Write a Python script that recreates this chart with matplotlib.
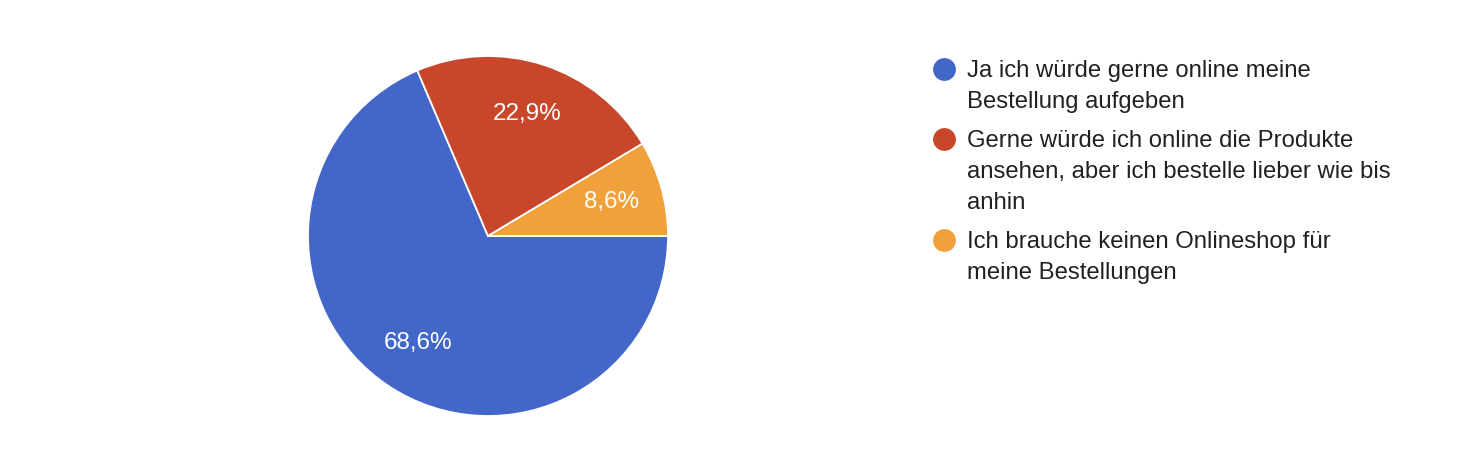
import matplotlib.pyplot as plt

plt.rcParams['font.family'] = ['Liberation Sans', 'DejaVu Sans']

# Antworten (n = 35)
categories = ['Ja ich würde gerne online meine\nBestellung aufgeben',
              'Gerne würde ich online die Produkte\nansehen, aber ich bestelle lieber wie bis\nanhin',
              'Ich brauche keinen Onlineshop für\nmeine Bestellungen']
counts = [24, 8, 3]
colors = ['#4267C9', '#C8472B', '#F0A13B']

W, H = 1462, 458
fig = plt.figure(figsize=(W / 100, H / 100), dpi=100)

cx, cy, r = 488, 236, 180
ax = fig.add_axes([(cx - r) / W, (H - cy - r) / H, 2 * r / W, 2 * r / H])
wedges, texts, autotexts = ax.pie(
    counts, colors=colors, startangle=0, counterclock=False,
    autopct=lambda p: f'{p:.1f}'.replace('.', ',') + '%',
    pctdistance=0.71,
    wedgeprops=dict(edgecolor='white', linewidth=1.3),
    textprops=dict(color='white', fontsize=17.5))
ax.set_xlim(-1, 1)
ax.set_ylim(-1, 1)

# Legende in Pixelkoordinaten
lg = fig.add_axes([0, 0, 1, 1], zorder=-1)
lg.set_xlim(0, W)
lg.set_ylim(H, 0)
lg.axis('off')

y = 77
for lab, col in zip(categories, colors):
    lines = lab.split('\n')
    lg.scatter([944], [y - 8], s=270, color=col, linewidths=0)
    for line in lines:
        lg.text(967, y, line, fontsize=17.2, color='#202124', va='baseline', ha='left')
        y += 31.2
    y += 7.5

fig.savefig('out.png', dpi=100)
